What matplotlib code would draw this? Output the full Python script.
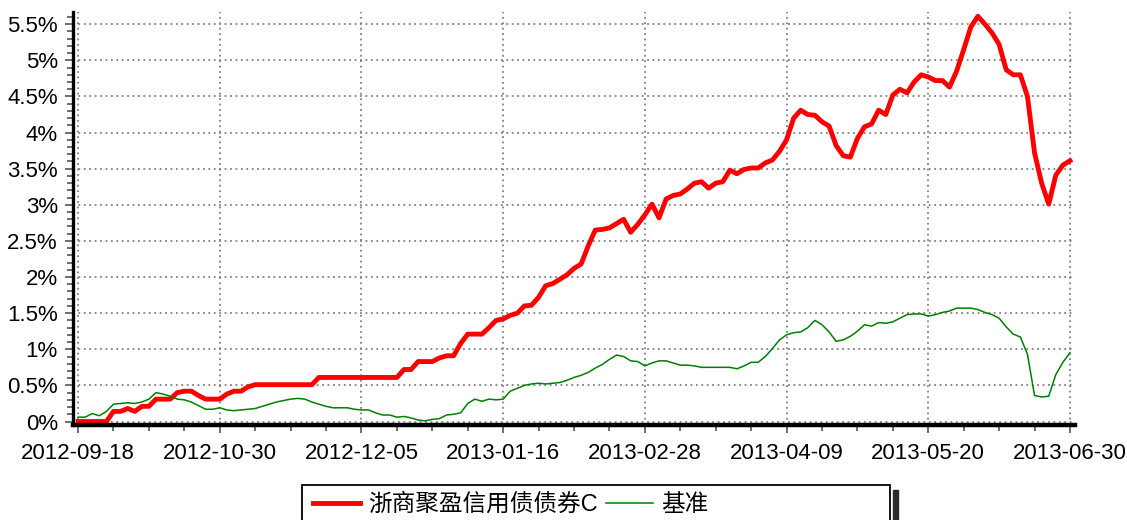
import matplotlib.pyplot as plt
from matplotlib.patches import Rectangle
from matplotlib.ticker import MultipleLocator

# x positions are trading-day indices (20 points between labelled dates)
tick_pos = [0, 20, 40, 60, 80, 100, 120, 140]
tick_labels = ['2012-09-18', '2012-10-30', '2012-12-05', '2013-01-16',
               '2013-02-28', '2013-04-09', '2013-05-20', '2013-06-30']

y_ticks = [0, 0.5, 1, 1.5, 2, 2.5, 3, 3.5, 4, 4.5, 5, 5.5]
y_labels = ['0%', '0.5%', '1%', '1.5%', '2%', '2.5%', '3%', '3.5%',
            '4%', '4.5%', '5%', '5.5%']

fund = [0.0, 0.0, 0.0, 0.0, 0.0, 0.14, 0.14, 0.18, 0.14, 0.21,
        0.21, 0.31, 0.31, 0.31, 0.40, 0.42, 0.42, 0.36, 0.31, 0.31,
        0.31, 0.38, 0.42, 0.42, 0.48, 0.51, 0.51, 0.51, 0.51, 0.51,
        0.51, 0.51, 0.51, 0.51, 0.61, 0.61, 0.61, 0.61, 0.61, 0.61,
        0.61, 0.61, 0.61, 0.61, 0.61, 0.61, 0.72, 0.72, 0.83, 0.83,
        0.83, 0.88, 0.91, 0.91, 1.08, 1.21, 1.21, 1.21, 1.30, 1.40,
        1.42, 1.47, 1.50, 1.60, 1.61, 1.72, 1.88, 1.91, 1.97, 2.03,
        2.12, 2.18, 2.43, 2.65, 2.66, 2.68, 2.74, 2.80, 2.62, 2.73,
        2.86, 3.01, 2.82, 3.08, 3.13, 3.15, 3.22, 3.30, 3.32, 3.23,
        3.30, 3.32, 3.48, 3.43, 3.49, 3.51, 3.51, 3.58, 3.62, 3.74,
        3.90, 4.20, 4.31, 4.25, 4.24, 4.15, 4.09, 3.82, 3.68, 3.66,
        3.92, 4.08, 4.12, 4.31, 4.25, 4.52, 4.60, 4.55, 4.70, 4.80,
        4.77, 4.72, 4.72, 4.63, 4.85, 5.15, 5.46, 5.61, 5.50, 5.38,
        5.22, 4.87, 4.80, 4.80, 4.50, 3.72, 3.30, 3.01, 3.41, 3.55,
        3.61]

bench = [0.06, 0.06, 0.11, 0.08, 0.14, 0.24, 0.25, 0.26, 0.25, 0.27,
         0.31, 0.40, 0.38, 0.35, 0.31, 0.30, 0.27, 0.22, 0.17, 0.17,
         0.19, 0.16, 0.15, 0.16, 0.17, 0.18, 0.21, 0.24, 0.27, 0.29,
         0.31, 0.32, 0.31, 0.27, 0.24, 0.21, 0.19, 0.19, 0.19, 0.17,
         0.16, 0.16, 0.12, 0.09, 0.09, 0.06, 0.07, 0.05, 0.02, 0.01,
         0.03, 0.04, 0.09, 0.10, 0.12, 0.25, 0.31, 0.28, 0.31, 0.30,
         0.31, 0.42, 0.46, 0.50, 0.52, 0.53, 0.52, 0.53, 0.54, 0.57,
         0.61, 0.64, 0.68, 0.74, 0.79, 0.86, 0.92, 0.90, 0.84, 0.83,
         0.77, 0.81, 0.84, 0.84, 0.81, 0.78, 0.78, 0.77, 0.75, 0.75,
         0.75, 0.75, 0.75, 0.73, 0.77, 0.82, 0.82, 0.90, 1.01, 1.13,
         1.20, 1.23, 1.24, 1.30, 1.40, 1.34, 1.24, 1.11, 1.13, 1.18,
         1.25, 1.34, 1.32, 1.37, 1.36, 1.38, 1.43, 1.48, 1.49, 1.49,
         1.46, 1.48, 1.51, 1.53, 1.57, 1.57, 1.57, 1.55, 1.51, 1.48,
         1.43, 1.31, 1.21, 1.17, 0.93, 0.36, 0.34, 0.35, 0.65, 0.82,
         0.95]

x = list(range(len(fund)))

plt.rcParams['font.family'] = ['Liberation Sans', 'Noto Sans CJK SC', 'DejaVu Sans']

fig = plt.figure(figsize=(11.27, 5.2), dpi=100)
ax = fig.add_axes([0.0648, 0.183, 0.889, 0.794])

ax.plot(x, fund, color='#ff0000', linewidth=3.5, label='浙商聚盈信用债债券C')
ax.plot(x, bench, color='#008000', linewidth=1.1, label='基准')

ax.set_xlim(-0.71, 140.7)
ax.set_ylim(-0.046, 5.67)

ax.set_xticks(tick_pos)
ax.set_xticklabels(tick_labels)
ax.xaxis.set_minor_locator(MultipleLocator(5))
ax.set_yticks(y_ticks)
ax.set_yticklabels(y_labels)
ax.yaxis.set_minor_locator(MultipleLocator(0.1))

ax.tick_params(axis='both', which='major', labelsize=16, color='#555555',
               length=6, width=1.2)
ax.tick_params(axis='x', which='major', pad=7)
ax.tick_params(axis='y', which='major', pad=5)
ax.tick_params(axis='both', which='minor', color='#555555', length=4, width=1.2)

ax.grid(True, which='major', color='#808080', linestyle=(0, (1, 2)), linewidth=1.3)

for side in ['top', 'right']:
    ax.spines[side].set_visible(False)
ax.spines['left'].set_linewidth(2.4)
ax.spines['bottom'].set_linewidth(3.2)

# legend box (fixed width, wider than its content) and its right-side shadow
fig.patches.append(Rectangle((302 / 1127, -0.02), 588 / 1127, 0.02 + 35 / 520,
                             transform=fig.transFigure, facecolor='white',
                             edgecolor='black', linewidth=1.3))
fig.patches.append(Rectangle((893 / 1127, 0), 5 / 1127, 30 / 520,
                             transform=fig.transFigure, color='#2a2a2a'))

leg = fig.legend(loc='upper left', bbox_to_anchor=(302 / 1127, 1 - 483 / 520),
                 ncol=2, fontsize=17, frameon=False,
                 handlelength=2.0, handletextpad=0.35, columnspacing=0.35,
                 borderpad=0.45, borderaxespad=0)

fig.savefig('out.png', dpi=100)
